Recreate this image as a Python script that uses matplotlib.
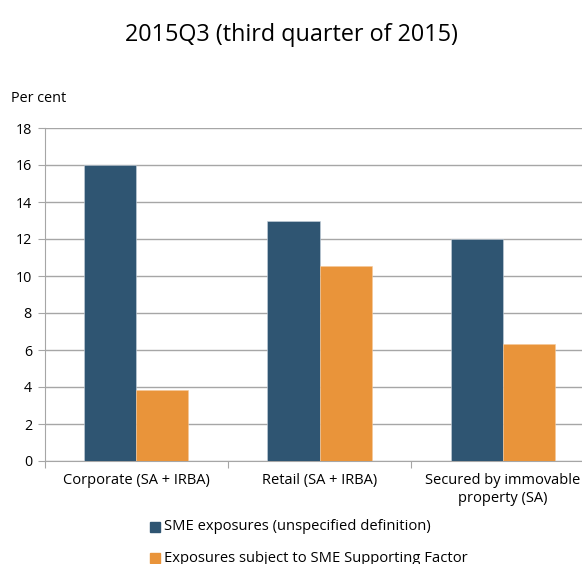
import matplotlib
matplotlib.use("Agg")
import matplotlib.pyplot as plt
import numpy as np

categories = ["Corporate (SA + IRBA)", "Retail (SA + IRBA)", "Secured by immovable\nproperty (SA)"]
sme_unspecified = [16.0, 13.0, 12.0]
sme_supporting = [3.85, 10.55, 6.35]
series_names = ["SME exposures (unspecified definition)", "Exposures subject to SME Supporting Factor"]
yticks = [0, 2, 4, 6, 8, 10, 12, 14, 16, 18]

dark = "#2F5572"
orange = "#E9943A"
grid = "#A6A6A6"

plt.rcParams["font.family"] = ["Open Sans", "DejaVu Sans"]

W, H = 582, 564
fig = plt.figure(figsize=(W / 100, H / 100), dpi=100)
# axes runs off the right edge of the figure
left, right, bottom, top = 44.5, 594.5, 461, 128
ax = fig.add_axes([left / W, 1 - bottom / H, (right - left) / W, (bottom - top) / H])

x = np.arange(len(categories))
bw = 0.285
ax.bar(x - bw / 2, sme_unspecified, bw, color=dark, edgecolor="#c9d3dc", linewidth=0.4,
       label=series_names[0], zorder=3)
ax.bar(x + bw / 2, sme_supporting, bw, color=orange, edgecolor="#f5c89a", linewidth=0.4,
       label=series_names[1], zorder=3)

ax.set_xlim(-0.5, len(categories) - 0.5)
ax.set_ylim(0, 18)
ax.set_yticks(yticks)
ax.set_yticklabels([str(v) for v in yticks], fontsize=10.3)
ax.yaxis.grid(True, color=grid, linewidth=1.0, zorder=0)
ax.set_axisbelow(True)
for s in ["top", "right"]:
    ax.spines[s].set_visible(False)
ax.spines["left"].set_color(grid)
ax.spines["bottom"].set_color(grid)
ax.tick_params(axis="y", length=5, color=grid, pad=4)

# category separators on the x axis
ax.set_xticks(np.arange(-0.5, len(categories), 1.0))
ax.set_xticklabels([])
ax.tick_params(axis="x", length=5, color=grid)
for xi, lab in zip(x, categories):
    ax.text(xi, -0.65, lab, ha="center", va="top", fontsize=10.5, linespacing=1.3)

fig.text(291 / W, 1 - 35 / H, "2015Q3 (third quarter of 2015)", ha="center", va="center", fontsize=16.8)
fig.text(11 / W, 1 - 98 / H, "Per cent", ha="left", va="center", fontsize=10.4)

# legend entries stacked vertically
for i, (name, col) in enumerate(zip(series_names, [dark, orange])):
    yy = 1 - (527 + 31 * i) / H
    fig.patches.append(plt.Rectangle((150 / W, yy - 5 / H), 10 / W, 10 / H,
                                     transform=fig.transFigure, color=col))
    fig.text(164 / W, yy, name, ha="left", va="center", fontsize=10.6)

fig.savefig("out.png", dpi=100)
